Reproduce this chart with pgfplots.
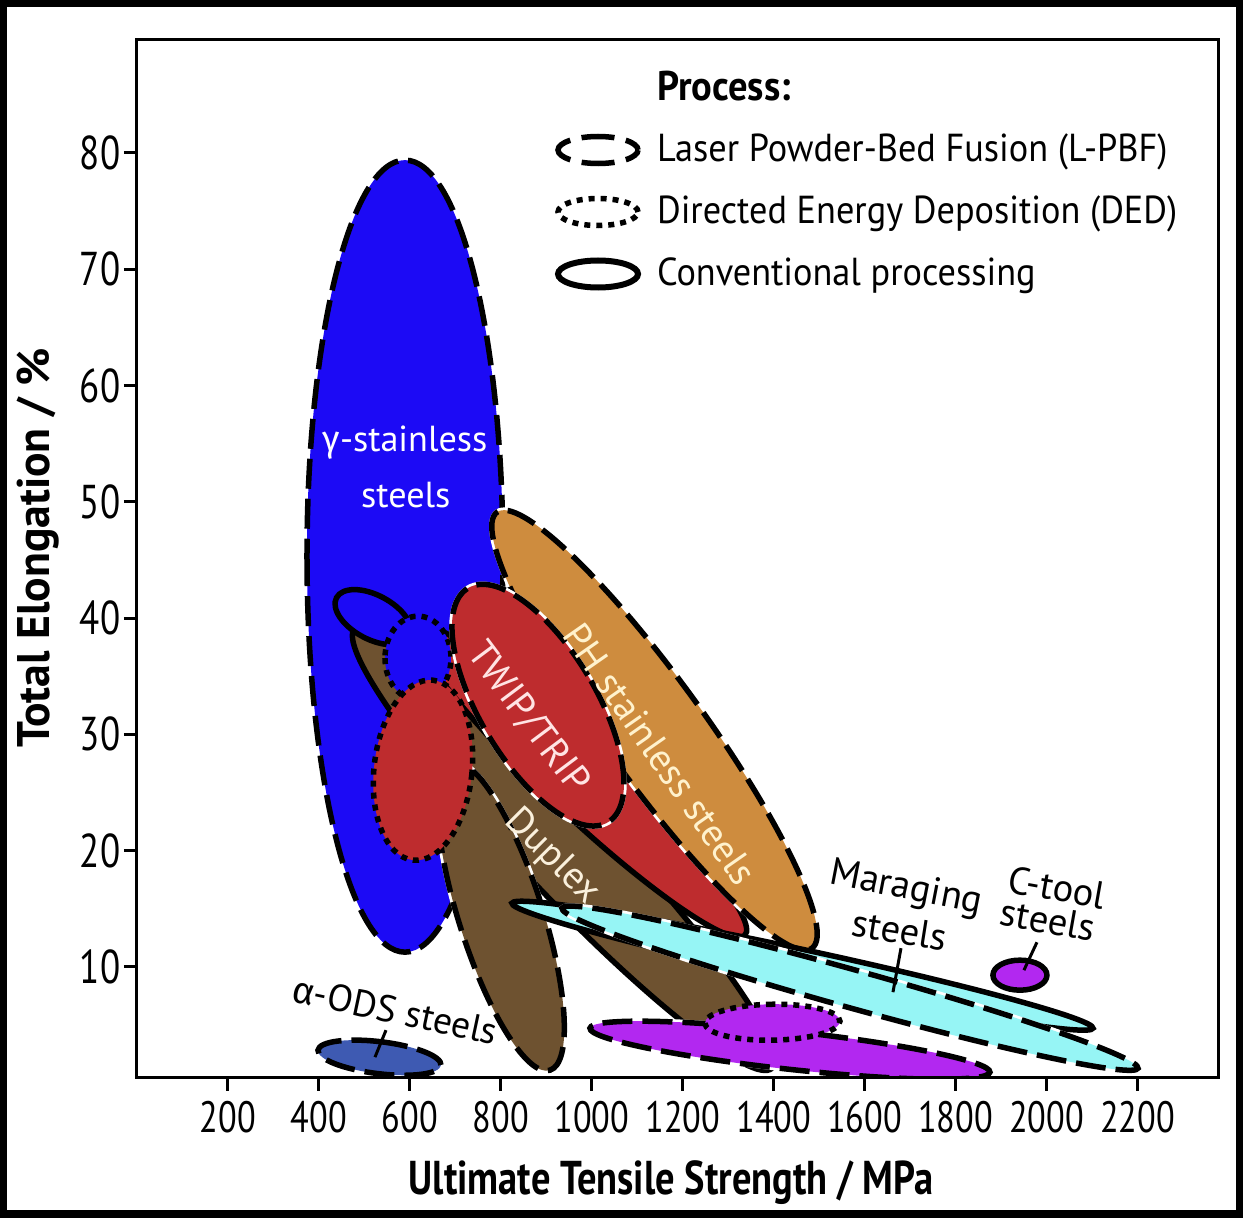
\documentclass[border=0pt]{standalone}
\usepackage{pgfplots}
\pgfplotsset{compat=1.18}
\usepackage{fontspec}
\setmainfont{PT Sans}
\newfontfamily\tickfont[FakeStretch=0.78]{PT Sans}
\newfontfamily\titlefont[FakeStretch=0.81]{PT Sans}
\newfontfamily\legfont[FakeStretch=0.93]{PT Sans}
\newfontfamily\grk{Fira Sans}
\definecolor{gblue}{RGB}{28,10,245}
\definecolor{porange}{RGB}{206,140,62}
\definecolor{dbrown}{RGB}{110,82,48}
\definecolor{twred}{RGB}{190,44,46}
\definecolor{mcyan}{RGB}{150,245,245}
\definecolor{cpurple}{RGB}{178,40,240}
\definecolor{odsblue}{RGB}{62,90,178}
\tikzset{
  lpbf/.style={draw=white, line width=0.55mm, postaction={draw=black, line width=0.55mm, dash pattern=on 3mm off 1mm}},
  ded/.style={draw=black, line width=0.55mm, dash pattern=on 0.6mm off 0.6mm},
  conv/.style={draw=black, line width=0.55mm},
}
\pgfplotsset{ell/.style={smooth cycle, tension=1, forget plot}}
\begin{document}
\begin{tikzpicture}
\useasboundingbox (0,0) rectangle (124.3mm,121.8mm);
\draw[line width=0.75mm] (0.375mm,0.375mm) rectangle (123.925mm,121.425mm);
\begin{axis}[
  at={(13.7mm,14mm)}, anchor=south west,
  scale only axis, width=108.1mm, height=103.8mm,
  xmin=0, xmax=2377, ymin=0.45, ymax=89.7,
  axis on top,
  axis line style={line width=0.3mm},
  tick style={line width=0.3mm, black},
  major tick length=1.3mm,
  tick align=outside,
  tick pos=left,
  xtick={200,400,...,2200},
  ytick={10,20,...,80},
  /pgf/number format/assume math mode=true,
  /pgf/number format/1000 sep={},
  xticklabel style={font=\tickfont\fontsize{12.5}{12.5}\selectfont, inner sep=1mm},
  yticklabel style={font=\tickfont\fontsize{13.5}{13.5}\selectfont, inner sep=0.3mm},
  xlabel={Ultimate Tensile Strength / MPa},
  ylabel={Total Elongation / \%},
  xlabel style={font=\titlefont\bfseries\fontsize{13.5}{13.5}\selectfont, at={(axis description cs:0.494,-0.101)}, anchor=center},
  ylabel style={font=\bfseries\fontsize{13}{13}\selectfont, at={(axis description cs:-0.0916,0.5106)}, anchor=center},
  legend style={at={(0.3867,0.9836)}, anchor=north west, draw=none, fill=none, inner sep=0pt, outer sep=0pt, row sep=0pt, column sep=1.6mm, font=\legfont\fontsize{11.1}{11.1}\selectfont, nodes={inner sep=0pt, minimum height=6.2mm}},
  legend cell align=left,
  legend image code/.code={\draw[#1] (4.25mm,0mm) ellipse [x radius=4mm, y radius=1.35mm];},
]
\addlegendimage{empty legend}
\addlegendentry{\fontsize{11.8}{11.8}\selectfont\bfseries Process:}
\addlegendimage{black, line width=0.55mm, dash pattern=on 3.3mm off 1.16mm, dash phase=1.65mm}
\addlegendentry{Laser Powder-Bed Fusion (L-PBF)}
\addlegendimage{black, line width=0.55mm, dash pattern=on 0.6mm off 0.6mm}
\addlegendentry{Directed Energy Deposition (DED)}
\addlegendimage{black, line width=0.6mm}
\addlegendentry{Conventional processing}

% gamma-stainless, L-PBF
\addplot[ell, fill=gblue, lpbf] coordinates {(589.3,79.37) (373.8,45.32) (589.3,11.27) (804.7,45.32)};
% Duplex conventional
\addplot[ell, fill=dbrown, conv] coordinates {(1396.2,1.29) (1009.7,22.87) (479.3,39.13) (865.9,17.54)};
% TWIP/TRIP conventional
\addplot[ell, fill=twred, conv] coordinates {(1336.9,12.73) (1028.6,28.06) (617.9,39.13) (926.1,23.79)};
% PH stainless L-PBF
\addplot[ell, fill=porange, lpbf] coordinates {(1484.2,11.61) (1226.9,32.87) (791.6,49.10) (1048.8,27.84)};
% gamma-stainless conventional
\addplot[ell, fill=gblue, conv] coordinates {(599.2,38.40) (541.8,41.74) (438.7,41.75) (496.0,38.40)};
% gamma-stainless DED
\addplot[ell, fill=gblue, ded] coordinates {(617.9,40.16) (545.3,36.55) (617.9,32.93) (690.4,36.55)};
% Duplex L-PBF
\addplot[ell, fill=dbrown, lpbf] coordinates {(908.1,1.12) (888.3,15.45) (692.6,27.60) (712.4,13.27)};
% TWIP/TRIP DED
\addplot[ell, fill=twred, ded] coordinates {(606.9,19.18) (735.9,26.45) (650.8,34.65) (521.8,27.38)};
% TWIP/TRIP L-PBF
\addplot[ell, fill=twred, lpbf] coordinates {(1035.6,22.44) (991.2,35.07) (727.8,42.57) (772.2,29.94)};
% Maraging conventional
\addplot[ell, fill=mcyan, conv] coordinates {(2102.0,4.73) (1470.8,11.45) (824.5,15.48) (1455.8,8.76)};
% Maraging L-PBF
\addplot[ell, fill=mcyan, lpbf] coordinates {(2201.0,1.29) (1578.9,9.74) (934.5,15.05) (1556.5,6.60)};
% C-tool L-PBF
\addplot[ell, fill=cpurple, lpbf] coordinates {(1875.5,0.95) (1440.4,4.46) (996.0,4.73) (1431.2,1.21)};
% C-tool DED
\addplot[ell, fill=cpurple, ded] coordinates {(1545.7,5.33) (1396.2,6.79) (1248.9,5.16) (1396.2,3.70)};
% C-tool conventional
\addplot[ell, fill=cpurple, conv] coordinates {(2000.9,9.29) (1941.5,10.58) (1882.1,9.29) (1941.5,8.00)};
% alpha-ODS L-PBF
\addplot[ell, fill=odsblue, lpbf] coordinates {(668.4,1.55) (537.4,3.56) (398.0,2.84) (529.0,0.83)};

% labels
\node[text=white, font=\fontsize{10.3}{10.3}\selectfont] at (axis cs:589.3,55.12) {{\grk γ}-stainless};
\node[text=white, font=\fontsize{10.3}{10.3}\selectfont] at (axis cs:591,50.56) {steels};
\node[text={rgb,255:red,255;green,242;blue,205}, rotate=-55.1, font=\fontsize{11}{11}\selectfont] at (axis cs:1150,28.29) {PH stainless steels};
\node[text={rgb,255:red,255;green,228;blue,228}, rotate=-53.2, font=\fontsize{11}{11}\selectfont] at (axis cs:859.7,31.39) {TWIP/TRIP};
\node[text={rgb,255:red,250;green,240;blue,220}, rotate=-45, font=\fontsize{11}{11}\selectfont] at (axis cs:912.5,19.43) {Duplex};
\node[rotate=-11, font=\fontsize{11}{11}\selectfont] at (axis cs:1690.9,16.68) {Maraging};
\node[rotate=-9, font=\fontsize{11}{11}\selectfont] at (axis cs:1677.7,13.16) {steels};
\node[rotate=-10, font=\fontsize{11}{11}\selectfont] at (axis cs:2022.9,16.85) {C-tool};
\node[rotate=-10, font=\fontsize{11}{11}\selectfont] at (axis cs:2003.1,14.02) {steels};
\node[rotate=-12, font=\fontsize{10.7}{10.7}\selectfont] at (axis cs:567.3,6.28) {{\grk α}-ODS steels};
\draw[line width=0.3mm] (axis cs:1679.9,11.61) -- (axis cs:1662.3,7.83);
\draw[line width=0.3mm] (axis cs:1978.9,12.12) -- (axis cs:1950.3,9.72);
\draw[line width=0.3mm] (axis cs:547.5,4.56) -- (axis cs:523.3,2.24);
\end{axis}
\end{tikzpicture}
\end{document}
